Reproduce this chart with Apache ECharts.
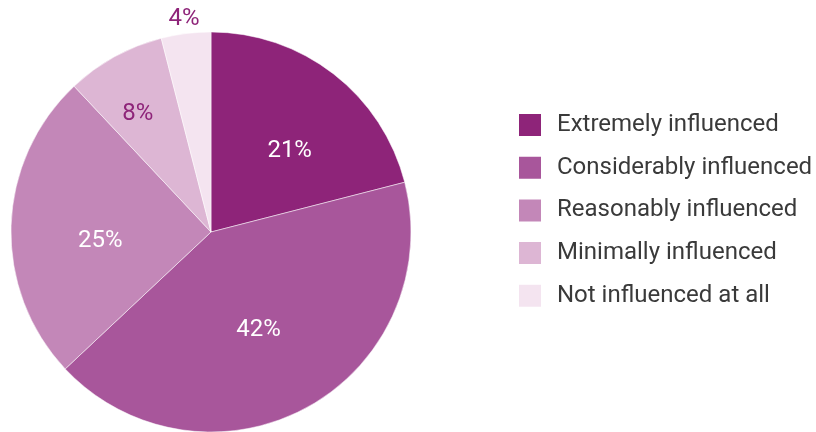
<!DOCTYPE html>
<html>
<head>
<meta charset="utf-8">
<script src="https://cdn.jsdelivr.net/npm/echarts@6/dist/echarts.min.js"></script>
<style>
  html, body { margin: 0; padding: 0; background: #fff; }
  #chart { width: 816px; height: 432px; }
</style>
</head>
<body>
<div id="chart"></div>
<script>
// Share of respondents by degree of influence
const categories = [
  'Extremely influenced',
  'Considerably influenced',
  'Reasonably influenced',
  'Minimally influenced',
  'Not influenced at all'
];
const values = [21, 42, 25, 8, 4];
const colors = ['#8E2479', '#A8569B', '#C387B8', '#DDB6D4', '#F4E4F0'];
const labelColors = ['#ffffff', '#ffffff', '#ffffff', '#8E2479', '#8E2479'];
// label placement: distance from the centre (fraction of radius) and a small turn off the mid-angle (degrees)
const labelRadius = [0.55, 0.53, 0.54, 0.68, 1.06];
const labelTurn = [6.5, 3, -6.5, -3, 0];

const R = 200;
const FONT = 'Roboto, "DejaVu Sans", sans-serif';
const total = values.reduce((a, b) => a + b, 0);

// ECharts places 'inside' labels at half the radius on the mid-angle; move each to its spot
let acc = 0;
const data = categories.map((name, i) => {
  const mid = (acc + values[i] / 2) / total * 2 * Math.PI;
  acc += values[i];
  const ang = mid + labelTurn[i] * Math.PI / 180;
  const r = labelRadius[i] * R;
  const h = 0.5 * R;
  return {
    name: name,
    value: values[i],
    itemStyle: { color: colors[i] },
    label: {
      color: labelColors[i],
      offset: [r * Math.sin(ang) - h * Math.sin(mid), -r * Math.cos(ang) + h * Math.cos(mid)]
    }
  };
});

const chart = echarts.init(document.getElementById('chart'), null, { renderer: 'canvas' });
chart.setOption({
  animation: false,
  backgroundColor: '#ffffff',
  legend: {
    orient: 'vertical',
    left: 512,
    top: 107,
    itemWidth: 24,
    itemHeight: 24,
    itemGap: 16.7,
    icon: 'rect',
    selectedMode: false,
    data: categories,
    textStyle: {
      fontFamily: FONT,
      fontSize: 24,
      lineHeight: 24,
      color: '#3a3a3a',
      padding: [0, 0, 0, 10]
    }
  },
  series: [{
    type: 'pie',
    center: [211, 232],
    radius: [0, R],
    startAngle: 90,
    clockwise: true,
    avoidLabelOverlap: false,
    itemStyle: { borderColor: '#ffffff', borderWidth: 0.5 },
    label: {
      show: true,
      position: 'inside',
      formatter: '{c}%',
      fontFamily: FONT,
      fontSize: 24
    },
    labelLine: { show: false },
    emphasis: { disabled: true },
    data: data
  }]
});
</script>
</body>
</html>
